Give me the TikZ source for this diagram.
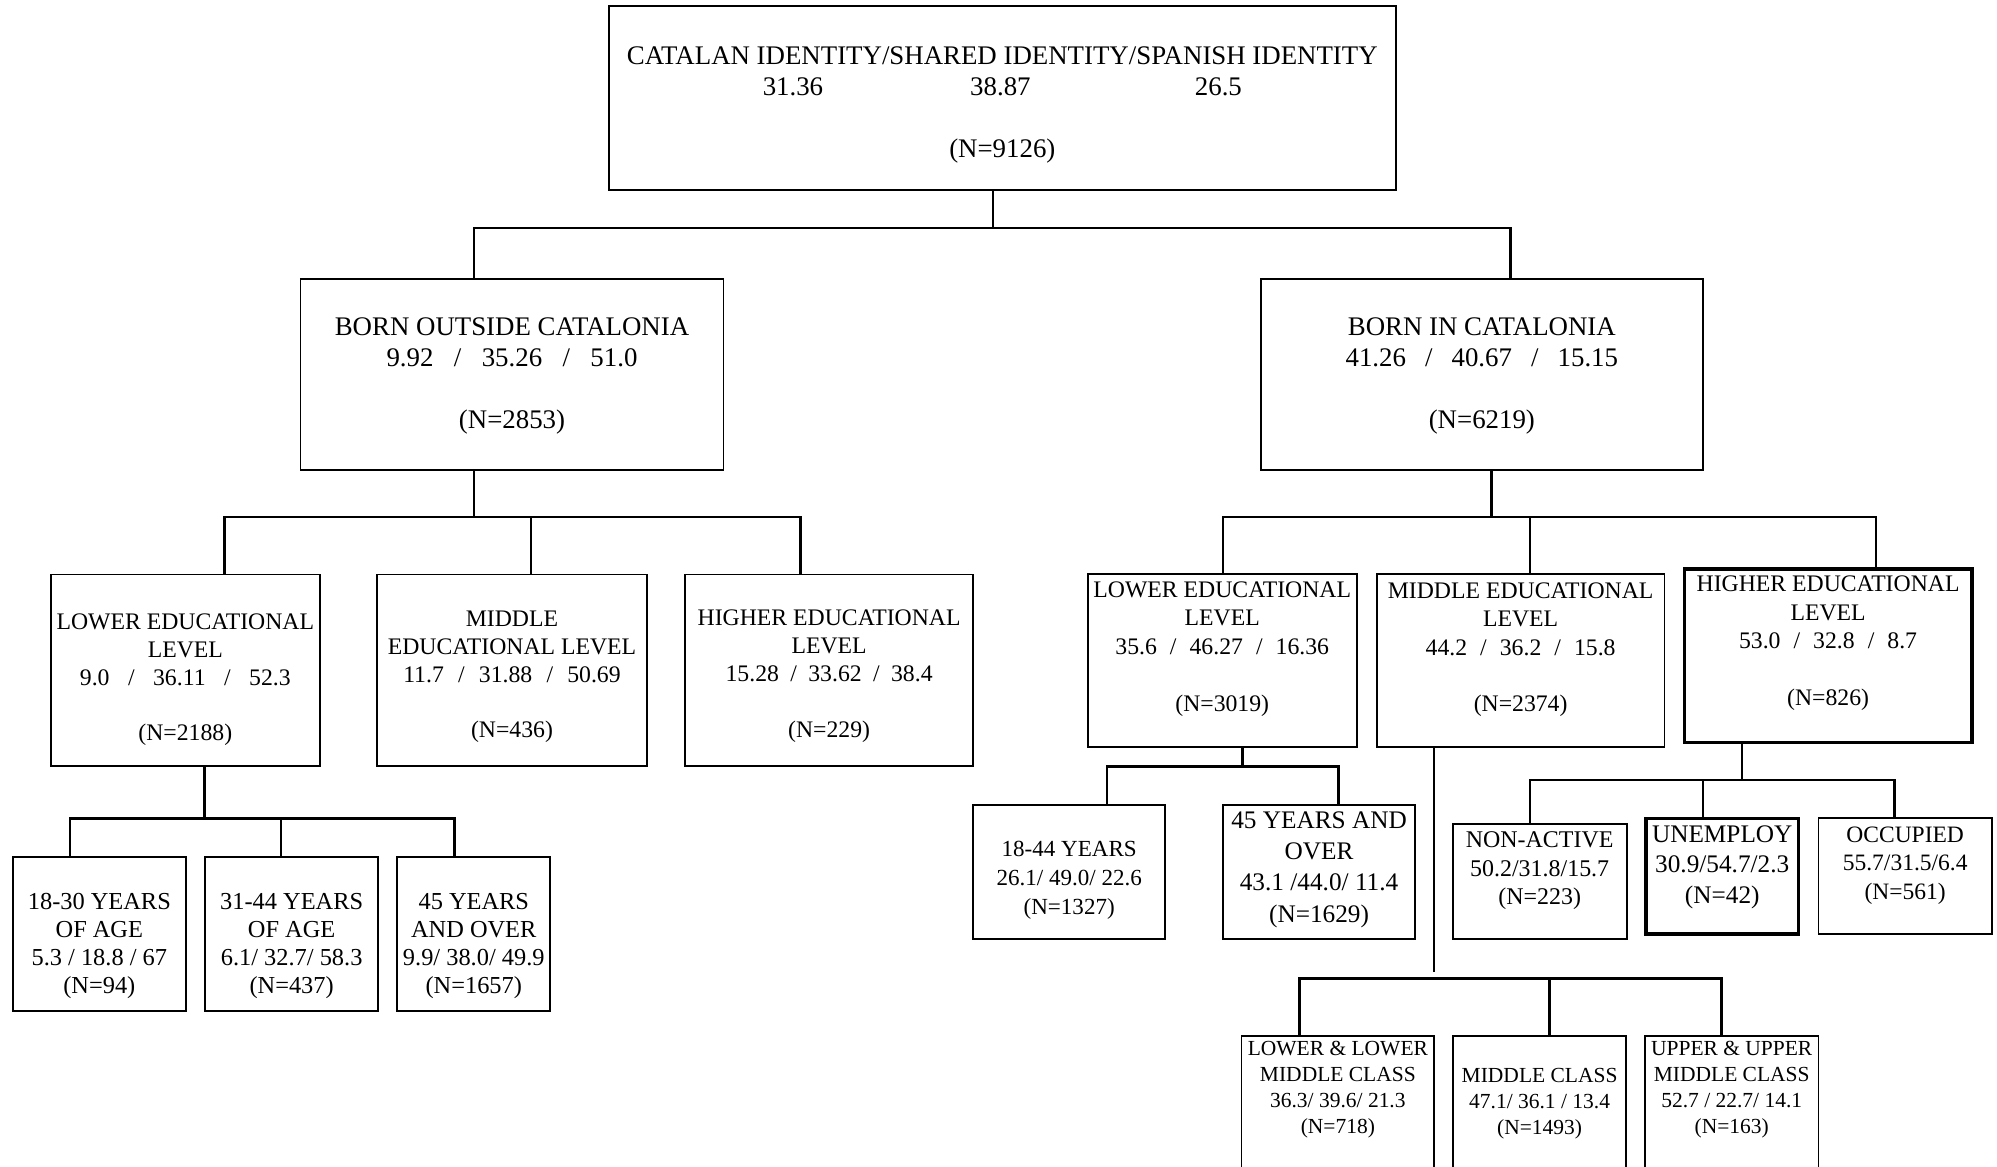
\documentclass[tikz,border=0pt]{standalone}
\usepackage{fontspec}
\setmainfont{Liberation Serif}
\usetikzlibrary{positioning}
\usetikzlibrary{fit}

\newcommand{\sepsl}[1]{\hspace{#1em}/\hspace{#1em}}

\tikzset{
  box/.style={draw, line width=0.8pt, inner sep=0pt},
  thickbox/.style={box, line width=1.5pt},
  link/.style={line width=1.1pt},
  txt/.style 2 args={inner sep=0pt, align=center, font=\fontsize{#1}{#2}\selectfont},
}

\begin{document}
\begin{tikzpicture}[x=0.02cm, y=-0.02cm]
            \useasboundingbox (0,0) rectangle (1568,916);
            \clip (0,0) rectangle (1568,916);

            % boxes
            \node[box, fit={(478,5) (1096,149)}] (tp) {};
            \node[box, fit={(236,219) (568,369)}] (bo) {};
            \node[box, fit={(990,219) (1337,369)}] (bi) {};
            \node[box, fit={(40,451) (251,601.5)}] (le1) {};
            \node[box, fit={(296,451) (508,601.5)}] (me1) {};
            \node[box, fit={(538,451) (764,601.5)}] (he1) {};
            \node[box, fit={(10,673) (146,794)}] (a1) {};
            \node[box, fit={(161,673) (297,794)}] (a2) {};
            \node[box, fit={(312,673) (432,794)}] (a3) {};
            \node[box, fit={(854,450.7) (1065.3,586.8)}] (le2) {};
            \node[box, fit={(1081,450.7) (1306.9,586.8)}] (me2) {};
            \node[thickbox, fit={(1322.4,446.8) (1548.3,582.9)}] (he2) {};
            \node[box, fit={(764.2,632) (914.8,737.5)}] (y1) {};
            \node[box, fit={(960.4,632) (1111,737.5)}] (y2) {};
            \node[box, fit={(1140.6,647) (1277.2,737.5)}] (na) {};
            \node[thickbox, fit={(1292.3,642.5) (1412.2,733.4)}] (un) {};
            \node[box, fit={(1427.9,642.5) (1563.9,733.4)}] (oc) {};
            \node[box, fit={(974.8,813.5) (1126.1,940)}] (lc1) {};
            \node[box, fit={(1140.8,813.5) (1276.9,940)}] (lc2) {};
            \node[box, fit={(1291.5,813.5) (1427.9,940)}] (lc3) {};

            % texts
            \node[txt={12}{13.8}, below=0.64cm of tp.north] (tptx) {CATALAN IDENTITY/SHARED IDENTITY/SPANISH IDENTITY\\31.36\hspace{2.31cm}38.87\hspace{2.58cm}26.5\\[13.8pt](N=9126)};
            \node[txt={12}{13.8}, below=0.62cm of bo.north] (botx) {BORN OUTSIDE CATALONIA\\9.92\sepsl{0.76}35.26\sepsl{0.76}51.0\\[13.8pt](N=2853)};
            \node[txt={12}{13.8}, below=0.62cm of bi.north] (bitx) {BORN IN CATALONIA\\41.26\sepsl{0.71}40.67\sepsl{0.71}15.15\\[13.8pt](N=6219)};

            \node[txt={10.6}{12.5}, below=0.62cm of le1.north] (le1tx) {LOWER EDUCATIONAL\\LEVEL\\9.0\sepsl{0.78}36.11\sepsl{0.78}52.3\\[12.3pt](N=2188)};
            \node[txt={10.6}{12.5}, below=0.58cm of me1.north] (me1tx) {MIDDLE\\EDUCATIONAL LEVEL\\11.7\sepsl{0.6}31.88\sepsl{0.6}50.69\\[12.3pt](N=436)};
            \node[txt={10.6}{12.5}, below=0.57cm of he1.north] (he1tx) {HIGHER EDUCATIONAL\\LEVEL\\15.28\sepsl{0.48}33.62\sepsl{0.48}38.4\\[12.3pt](N=229)};

            \node[txt={10.9}{12.5}, below=0.57cm of a1.north] (a1tx) {18-30 YEARS\\OF AGE\\5.3 / 18.8 / 67\\(N=94)};
            \node[txt={10.9}{12.5}, below=0.57cm of a2.north] (a2tx) {31-44 YEARS\\OF AGE\\6.1/ 32.7/ 58.3\\(N=437)};
            \node[txt={10.9}{12.5}, below=0.57cm of a3.north] (a3tx) {45 YEARS\\AND OVER\\9.9/ 38.0/ 49.9\\(N=1657)};

            \node[txt={10.6}{12.7}, below=0.13cm of le2.north] (le2tx) {LOWER EDUCATIONAL\\LEVEL\\35.6\sepsl{0.55}46.27\sepsl{0.55}16.36\\[12.7pt](N=3019)};
            \node[txt={10.6}{12.7}, below=0.14cm of me2.north] (me2tx) {MIDDLE EDUCATIONAL\\LEVEL\\44.2\sepsl{0.55}36.2\sepsl{0.55}15.8\\[12.7pt](N=2374)};
            \node[txt={10.6}{12.7}, below=0.13cm of he2.north] (he2tx) {HIGHER EDUCATIONAL\\LEVEL\\53.0\sepsl{0.55}32.8\sepsl{0.55}8.7\\[12.7pt](N=826)};

            \node[txt={10.3}{12.8}, below=0.58cm of y1.north] (y1tx) {18-44 YEARS\\26.1/ 49.0/ 22.6\\(N=1327)};
            \node[txt={11.3}{14}, below=0.11cm of y2.north] (y2tx) {45 YEARS AND\\OVER\\43.1 /44.0/ 11.4\\(N=1629)};

            \node[txt={10.7}{12.8}, below=0.13cm of na.north] (natx) {NON-ACTIVE\\50.2/31.8/15.7\\(N=223)};
            \node[txt={11.3}{13.8}, below=0.13cm of un.north] (untx) {UNEMPLOY\\30.9/54.7/2.3\\(N=42)};
            \node[txt={10.5}{12.7}, below=0.14cm of oc.north] (octx) {OCCUPIED\\55.7/31.5/6.4\\(N=561)};

            \node[txt={9.6}{11.6}, below=0.09cm of lc1.north] (lc1tx) {LOWER \& LOWER\\MIDDLE CLASS\\36.3/ 39.6/ 21.3\\(N=718)};
            \node[txt={9.6}{11.6}, below=0.51cm of lc2.north] (lc2tx) {MIDDLE CLASS\\47.1/ 36.1 / 13.4\\(N=1493)};
            \node[txt={9.6}{11.6}, below=0.09cm of lc3.north] (lc3tx) {UPPER \& UPPER\\MIDDLE CLASS\\52.7 / 22.7/ 14.1\\(N=163)};

            % bus points
            \coordinate (tpM) at (779.6,179);
            \coordinate (tpL) at (372,179);
            \coordinate (tpR) at (1186,179);
            \coordinate (boM) at (372,406);
            \coordinate (boL) at (176.3,406);
            \coordinate (boC) at (417,406);
            \coordinate (boR) at (628.4,406);
            \coordinate (biM) at (1171,406);
            \coordinate (biL) at (960.4,406);
            \coordinate (biC) at (1201.4,406);
            \coordinate (biR) at (1473,406);
            \coordinate (leM) at (160.7,642.5);
            \coordinate (leL) at (55.1,642.5);
            \coordinate (leC) at (220.8,642.5);
            \coordinate (leR) at (357,642.5);
            \coordinate (lrM) at (975.5,602);
            \coordinate (lrL) at (869,602);
            \coordinate (lrR) at (1050.8,602);
            \coordinate (mrM) at (1126,763);
            \coordinate (mrL) at (1020.3,768.2);
            \coordinate (mrC) at (1216.6,768.2);
            \coordinate (mrR) at (1351.8,768.2);
            \coordinate (hrM) at (1367.6,612.5);
            \coordinate (hrL) at (1201.4,612.5);
            \coordinate (hrC) at (1337,612.5);
            \coordinate (hrR) at (1487.5,612.5);

            % connectors
            \draw[link] (tp.south -| tpM) -- (tpM);
            \draw[link] (bo.north -| tpL) -- (tpL) -- (tpR) -- (bi.north -| tpR);

            \draw[link] (bo.south -| boM) -- (boM);
            \draw[link] (le1.north -| boL) -- (boL) -- (boR) -- (he1.north -| boR);
            \draw[link] (boC) -- (me1.north -| boC);

            \draw[link] (bi.south -| biM) -- (biM);
            \draw[link] (le2.north -| biL) -- (biL) -- (biR) -- (he2.north -| biR);
            \draw[link] (biC) -- (me2.north -| biC);

            \draw[link] (le1.south -| leM) -- (leM);
            \draw[link] (a1.north -| leL) -- (leL) -- (leR) -- (a3.north -| leR);
            \draw[link] (leC) -- (a2.north -| leC);

            \draw[link] (le2.south -| lrM) -- (lrM);
            \draw[link] (y1.north -| lrL) -- (lrL) -- (lrR) -- (y2.north -| lrR);

            \draw[link] (me2.south -| mrM) -- (mrM);
            \draw[link] (lc1.north -| mrL) -- (mrL) -- (mrR) -- (lc3.north -| mrR);
            \draw[link] (mrC) -- (lc2.north -| mrC);

            \draw[link] (he2.south -| hrM) -- (hrM);
            \draw[link] (na.north -| hrL) -- (hrL) -- (hrR) -- (oc.north -| hrR);
            \draw[link] (hrC) -- (un.north -| hrC);
        \end{tikzpicture}
\end{document}
